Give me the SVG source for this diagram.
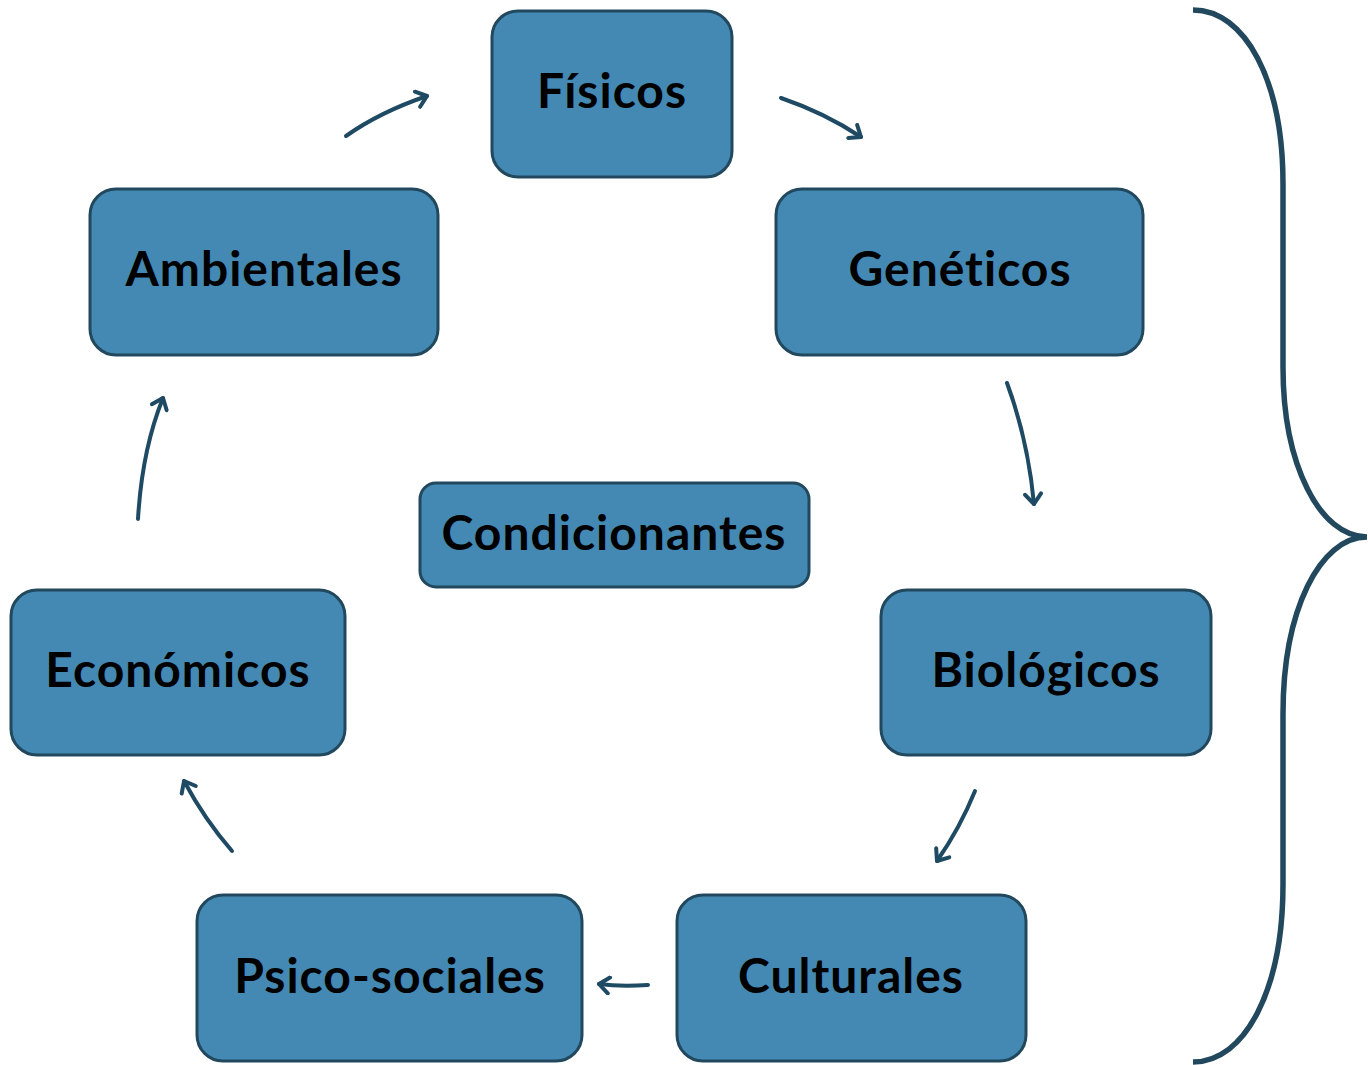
<svg xmlns="http://www.w3.org/2000/svg" width="1368" height="1065" viewBox="0 0 1368 1065">
<style>
.box{fill:#4389B4;stroke:#22485E;stroke-width:3}
.lbl{font-family:Lato,"Liberation Sans",sans-serif;font-weight:bold;font-size:48px;letter-spacing:1px;font-variant-ligatures:none;fill:#000;text-anchor:middle}
.arr{fill:none;stroke:#1F4A63;stroke-width:4;stroke-linecap:round;marker-end:url(#ah)}
</style>
<defs>
<marker id="ah" viewBox="0 0 20 20" refX="16" refY="10" markerWidth="20" markerHeight="20" markerUnits="userSpaceOnUse" orient="auto">
<path d="M6,2 L16,10 L6,18" fill="none" stroke="#1F4A63" stroke-width="4" stroke-linecap="round" stroke-linejoin="round"/>
</marker>
</defs>
<rect width="1368" height="1065" fill="#fff"/>
<g id="connectors">
<path class="arr" d="M346,136 Q380,112 427,96"/>
<path class="arr" d="M781,98 Q825,113 861,137"/>
<path class="arr" d="M1007,383 Q1028,440 1034,504"/>
<path class="arr" d="M975,791 Q960,828 937,861"/>
<path class="arr" d="M648,985 Q620,987 599,984"/>
<path class="arr" d="M232,851 Q205,820 184,781"/>
<path class="arr" d="M138,519 Q142,450 163,398"/>
<path d="M1193,10 C1245,10 1283,80 1283,184 L1283,367 C1283,465 1320,537 1367,537 C1320,537 1283,610 1283,714 L1283,884 C1283,990 1245,1062 1193,1062" fill="none" stroke="#22485E" stroke-width="5.5"/>
</g>
<g id="fisicos"><rect class="box" x="492" y="11" width="240" height="166" rx="26"/><text class="lbl" x="612" y="108">Físicos</text></g>
<g id="geneticos"><rect class="box" x="776" y="189" width="367" height="166" rx="26"/><text class="lbl" x="960" y="286">Genéticos</text></g>
<g id="ambientales"><rect class="box" x="90" y="189" width="348" height="166" rx="26"/><text class="lbl" x="264" y="286">Ambientales</text></g>
<g id="condicionantes"><rect class="box" x="420" y="483" width="389" height="104" rx="16"/><text class="lbl" x="614" y="550">Condicionantes</text></g>
<g id="economicos"><rect class="box" x="11" y="590" width="334" height="165" rx="26"/><text class="lbl" x="178" y="687">Económicos</text></g>
<g id="biologicos"><rect class="box" x="881" y="590" width="330" height="165" rx="26"/><text class="lbl" x="1046" y="687">Biológicos</text></g>
<g id="psicosociales"><rect class="box" x="197" y="895" width="385" height="166" rx="26"/><text class="lbl" x="390" y="993">Psico-sociales</text></g>
<g id="culturales"><rect class="box" x="677" y="895" width="349" height="166" rx="26"/><text class="lbl" x="851" y="993">Culturales</text></g>
</svg>
